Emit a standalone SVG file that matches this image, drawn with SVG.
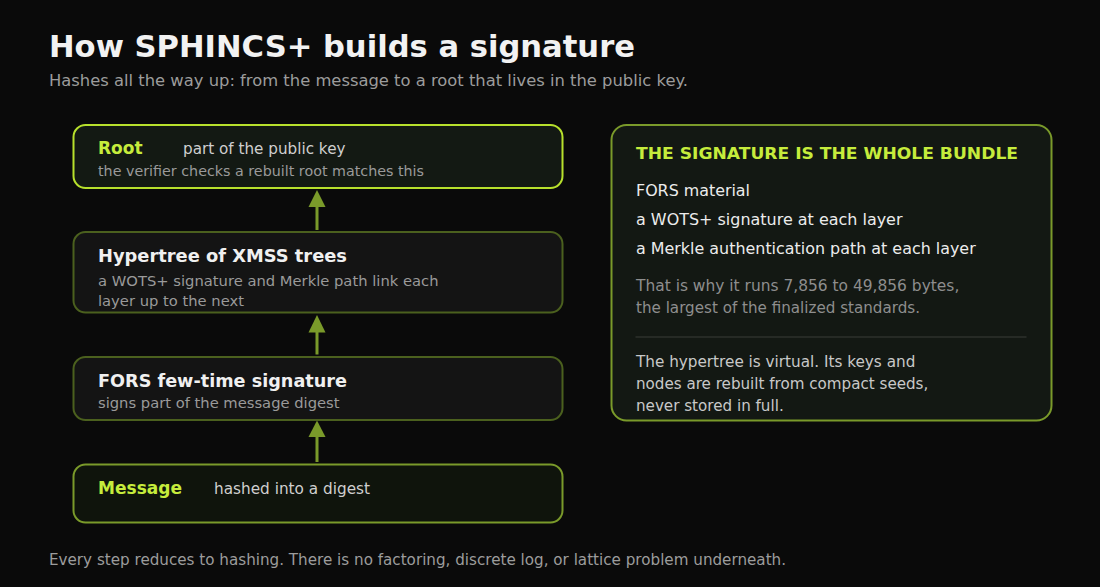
<svg xmlns="http://www.w3.org/2000/svg" width="1100" height="587" viewBox="0 0 1100 587">
<defs>
<style>
text{font-family:"DejaVu Sans","Liberation Sans",sans-serif}
.title{font-size:30px;font-weight:bold;fill:#f2f2f2}
.sub{font-size:15px;fill:#9c9c9c}
.nt{font-size:17.5px;font-weight:bold;fill:#f0f0f0}
.nl{font-size:17px;font-weight:bold;fill:#c6ec3c}
.tag{font-size:15.2px;fill:#cfcfcf}
.nd{font-size:14.2px;fill:#9a9a9a}
.item{font-size:16px;fill:#ececec}
.ph{font-size:16.5px;font-weight:bold;fill:#c6ec3c}
.pg{font-size:15.3px;fill:#8e8e8e}
.pn{font-size:15px;fill:#c8c8c8}
.arrow{stroke:#7a9a2a;stroke-width:3;fill:none}
.head{fill:#7a9a2a}
</style>
</defs>
<rect width="1100" height="587" fill="#0a0a0a"/>
<text class="title" x="49" y="57" textLength="586" lengthAdjust="spacingAndGlyphs">How SPHINCS+ builds a signature</text>
<text class="sub" x="49" y="86" textLength="639" lengthAdjust="spacingAndGlyphs">Hashes all the way up: from the message to a root that lives in the public key.</text>

<g id="connectors">
<line class="arrow" x1="317" y1="230" x2="317" y2="204"/>
<polygon class="head" points="317,190 308.5,207 325.5,207"/>
<line class="arrow" x1="317" y1="354.5" x2="317" y2="329"/>
<polygon class="head" points="317,315 308.5,332.5 325.5,332.5"/>
<line class="arrow" x1="317" y1="462" x2="317" y2="434"/>
<polygon class="head" points="317,420.5 308.5,437 325.5,437"/>
</g>

<g id="root">
<rect x="73.5" y="125" width="489" height="63" rx="12" fill="#131913" stroke="#b7e02c" stroke-width="2"/>
<text class="nl" x="98" y="154">Root</text>
<text class="tag" x="183" y="154" textLength="162.5" lengthAdjust="spacingAndGlyphs">part of the public key</text>
<text class="nd" x="98" y="176" textLength="326" lengthAdjust="spacingAndGlyphs">the verifier checks a rebuilt root matches this</text>
</g>

<g id="hypertree">
<rect x="73.5" y="232" width="489" height="80.5" rx="12" fill="#141414" stroke="#4b601e" stroke-width="2"/>
<text class="nt" x="98" y="262" textLength="249" lengthAdjust="spacingAndGlyphs">Hypertree of XMSS trees</text>
<text class="nd" x="98" y="286" textLength="340.5" lengthAdjust="spacingAndGlyphs">a WOTS+ signature and Merkle path link each</text>
<text class="nd" x="98" y="306" textLength="146" lengthAdjust="spacingAndGlyphs">layer up to the next</text>
</g>

<g id="fors">
<rect x="73.5" y="357" width="489" height="63" rx="12" fill="#141414" stroke="#4b601e" stroke-width="2"/>
<text class="nt" x="98" y="386.5" textLength="249" lengthAdjust="spacingAndGlyphs">FORS few-time signature</text>
<text class="nd" x="98" y="408.3" textLength="241.5" lengthAdjust="spacingAndGlyphs">signs part of the message digest</text>
</g>

<g id="message">
<rect x="73.5" y="464.5" width="489" height="58" rx="12" fill="#0f140c" stroke="#7a9a2a" stroke-width="2"/>
<text class="nl" x="98" y="494" textLength="84" lengthAdjust="spacingAndGlyphs">Message</text>
<text class="tag" x="214" y="494" textLength="156" lengthAdjust="spacingAndGlyphs">hashed into a digest</text>
</g>

<g id="bundle">
<rect x="611.5" y="125" width="440" height="295.5" rx="15" fill="#131813" stroke="#7a9a2a" stroke-width="2"/>
<text class="ph" x="636" y="159" textLength="382" lengthAdjust="spacingAndGlyphs">THE SIGNATURE IS THE WHOLE BUNDLE</text>
<text class="item" x="636" y="196" textLength="114" lengthAdjust="spacingAndGlyphs">FORS material</text>
<text class="item" x="636" y="225" textLength="266.5" lengthAdjust="spacingAndGlyphs">a WOTS+ signature at each layer</text>
<text class="item" x="636" y="254.3" textLength="339.7" lengthAdjust="spacingAndGlyphs">a Merkle authentication path at each layer</text>
<text class="pg" x="636" y="291" textLength="323.3" lengthAdjust="spacingAndGlyphs">That is why it runs 7,856 to 49,856 bytes,</text>
<text class="pg" x="636" y="313.3" textLength="284" lengthAdjust="spacingAndGlyphs">the largest of the finalized standards.</text>
<line x1="635.5" y1="337" x2="1026.5" y2="337" stroke="#3a3d38" stroke-width="1.2"/>
<text class="pn" x="636" y="367.3" textLength="279.3" lengthAdjust="spacingAndGlyphs">The hypertree is virtual. Its keys and</text>
<text class="pn" x="636" y="389" textLength="292.3" lengthAdjust="spacingAndGlyphs">nodes are rebuilt from compact seeds,</text>
<text class="pn" x="636" y="411" textLength="147.7" lengthAdjust="spacingAndGlyphs">never stored in full.</text>
</g>

<text class="sub" x="49" y="565" textLength="737" lengthAdjust="spacingAndGlyphs">Every step reduces to hashing. There is no factoring, discrete log, or lattice problem underneath.</text>
</svg>
